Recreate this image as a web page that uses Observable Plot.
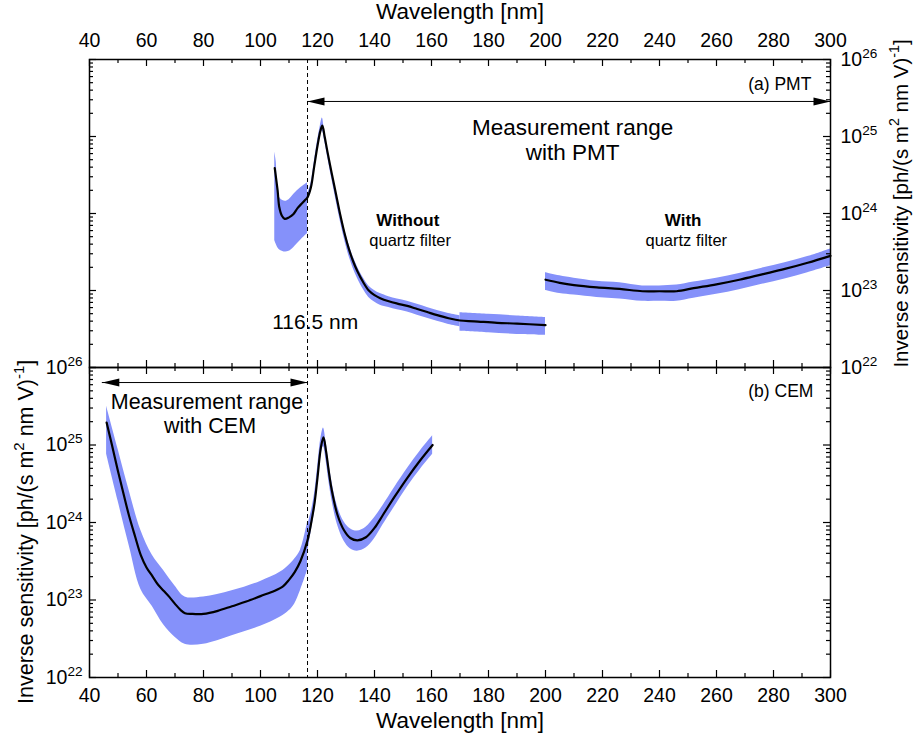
<!DOCTYPE html>
<html><head><meta charset="utf-8">
<script src="https://cdn.jsdelivr.net/npm/d3@7"></script>
<script src="https://cdn.jsdelivr.net/npm/@observablehq/plot@0.6"></script>
<style>
html,body{margin:0;padding:0;background:#fff;}
#wrap{position:relative;width:914px;height:740px;}
#top,#bot{position:absolute;left:0;}
#top{top:0;} #bot{top:366px;}
</style></head><body>
<div id="wrap"><div id="top"></div><div id="bot"></div></div>
<script>
// ---------- data (values are log10 of inverse sensitivity) ----------
const xTicksMajor = [40, 60, 80, 100, 120, 140, 160, 180, 200, 220, 240, 260, 280, 300];
const xTicksMinor = [50, 70, 90, 110, 130, 150, 170, 190, 210, 230, 250, 270, 290];
const yDecades = [22, 23, 24, 25, 26];
const yMinorMult = [2, 3, 4, 5, 6, 7, 8, 9];

// (a) PMT, without quartz filter
const pmtNoFilterWl  = [105, 106, 106.6, 107.5, 108.5, 110, 111.5, 113, 114.5, 115.5, 116.5, 117.7, 118.8, 120, 121, 121.7, 122.5, 123.5, 125, 126.5, 128, 129.5, 131, 132.5, 134, 136, 138, 140, 142, 145, 148, 151.5, 155, 158.5, 162, 166, 170, 175, 183, 190, 200];
const pmtNoFilterExp = [24.59, 24.30, 24.08, 23.97, 23.93, 23.95, 23.99, 24.07, 24.13, 24.17, 24.21, 24.34, 24.60, 24.88, 25.07, 25.14, 25.00, 24.80, 24.52, 24.25, 23.98, 23.74, 23.54, 23.38, 23.25, 23.11, 23.00, 22.94, 22.90, 22.86, 22.83, 22.80, 22.76, 22.72, 22.68, 22.64, 22.61, 22.60, 22.58, 22.57, 22.55];
// uncertainty bands
const pmtBandAWl = [105, 105.5, 106, 107, 108.7, 110, 111.7, 114, 116.5];
const pmtBandAHi = [24.80, 24.68, 24.36, 24.19, 24.16, 24.18, 24.25, 24.33, 24.40];
const pmtBandALo = [23.65, 23.60, 23.56, 23.52, 23.50, 23.51, 23.56, 23.65, 23.74];
const pmtBandBWl = [116.5, 117.7, 118.8, 120, 121, 121.7, 122.5, 123.5, 125, 126.5, 128, 129.5, 131, 132.5, 134, 136, 138, 140, 142, 145, 148, 151.5, 155, 158.5, 162, 166, 170];
const pmtBandBHi = [24.25, 24.39, 24.65, 24.94, 25.14, 25.24, 25.06, 24.85, 24.57, 24.30, 24.03, 23.80, 23.60, 23.44, 23.31, 23.17, 23.06, 23.00, 22.96, 22.92, 22.89, 22.86, 22.82, 22.78, 22.74, 22.70, 22.67];
const pmtBandBLo = [24.17, 24.29, 24.54, 24.82, 25.01, 25.07, 24.94, 24.74, 24.45, 24.17, 23.90, 23.66, 23.45, 23.29, 23.16, 23.02, 22.91, 22.85, 22.81, 22.78, 22.75, 22.72, 22.68, 22.64, 22.60, 22.56, 22.53];
const pmtBandCWl = [170, 180, 190, 200];
const pmtBandCHi = [22.71, 22.69, 22.67, 22.65];
const pmtBandCLo = [22.47, 22.45, 22.43, 22.42];

// (a) PMT, with quartz filter
const pmtFilterWl  = [200, 205, 210, 218, 226, 234, 240, 246, 252, 260, 268, 276, 284, 292, 300];
const pmtFilterExp = [23.14, 23.10, 23.07, 23.04, 23.02, 22.99, 22.99, 22.99, 23.03, 23.08, 23.14, 23.21, 23.28, 23.36, 23.45];
const pmtFilterHi  = [23.23, 23.19, 23.16, 23.12, 23.10, 23.06, 23.06, 23.07, 23.11, 23.16, 23.22, 23.29, 23.36, 23.44, 23.54];
const pmtFilterLo  = [23.00, 22.96, 22.94, 22.91, 22.89, 22.86, 22.86, 22.86, 22.90, 22.95, 23.01, 23.08, 23.15, 23.23, 23.32];

// (b) CEM
const cemWl  = [46, 48, 50, 52, 54, 56, 58, 60, 62, 64, 66, 68, 70, 72, 73.5, 76, 80, 85, 90, 95, 100, 105, 108, 110, 112, 114, 116.5, 118, 119, 120, 121.2, 122.1, 123, 124, 125, 127, 129.3, 131.5, 134, 137, 140, 143, 147, 151.6, 156, 160.4];
const cemExp = [25.29, 24.98, 24.66, 24.36, 24.07, 23.82, 23.58, 23.42, 23.31, 23.20, 23.12, 23.04, 22.95, 22.87, 22.83, 22.82, 22.82, 22.86, 22.92, 22.98, 23.05, 23.12, 23.18, 23.26, 23.36, 23.50, 23.77, 24.04, 24.26, 24.58, 24.97, 25.10, 24.92, 24.65, 24.42, 24.10, 23.90, 23.80, 23.77, 23.81, 23.93, 24.10, 24.33, 24.58, 24.80, 25.00];
const cemBandAWl = [46, 50, 54, 58, 62, 66, 70, 73.5, 80, 90, 100, 107, 110, 112, 114, 116.5];
const cemBandAHi = [25.50, 24.95, 24.40, 23.90, 23.58, 23.38, 23.18, 23.04, 23.04, 23.12, 23.24, 23.36, 23.45, 23.53, 23.64, 24.00];
const cemBandALo = [24.88, 24.28, 23.69, 23.14, 22.92, 22.68, 22.52, 22.43, 22.43, 22.54, 22.66, 22.78, 22.86, 22.95, 23.12, 23.38];
const cemBandBWl = [116.5, 118, 119, 120, 121.2, 122.1, 123, 124, 125, 127, 129.3, 131.5, 134, 137, 140, 143, 147, 151.6, 156, 160.4];
const cemBandBHi = [23.95, 24.17, 24.38, 24.70, 25.09, 25.22, 25.04, 24.77, 24.54, 24.21, 24.01, 23.92, 23.89, 23.94, 24.06, 24.22, 24.45, 24.70, 24.92, 25.12];
const cemBandBLo = [23.60, 23.93, 24.14, 24.46, 24.85, 24.98, 24.80, 24.53, 24.30, 23.97, 23.76, 23.66, 23.63, 23.67, 23.79, 23.97, 24.20, 24.46, 24.68, 24.88];

// annotations
const cutoffWl = 116.5;
const topNoteText = ["Measurement range", "with PMT"];
const topNoteWl   = [209.5, 209.5];
const topNoteExp  = [25.116, 24.782];
const cutoffLabel = "116.5 nm", cutoffLabelWl = 119.2, cutoffLabelExp = 22.59;
const boldNoteText = ["Without", "With"];
const boldNoteWl   = [151.7, 248.3];
const smallNoteText = ["quartz filter", "quartz filter"];
const smallNoteWl   = [152.5, 249.4];
const boldNoteExp = 23.905, smallNoteExp = 23.642;
const botNoteText = ["Measurement range", "with CEM"];
const botNoteWl   = [81.2, 82.3];
const botNoteExp  = [25.553, 25.239];
const panelLabels = ["(a) PMT", "(b) CEM"];
const panelLabelWl = [293.3, 294];
const panelLabelExp = [25.679, 25.692];
const pmtArrowWl = [116.5, 300], pmtArrowExp = 25.455;
const cemArrowWl = [44.5, 116.5], cemArrowExp = 25.806;
const xTitle = "Wavelength [nm]";
const yTitle = "Inverse sensitivity [ph/(s m^{2} nm V)^{-1}]";

// ---------- helpers ----------
const P = e => Math.pow(10, e);
const lineRows = (xs, es) => xs.map((x, i) => ({x, y: P(es[i])}));
const bandRows = (xs, hi, lo) => xs.map((x, i) => ({x, hi: P(hi[i]), lo: P(lo[i])}));
const yMajor = yDecades.map(P);
const yMinor = yDecades.slice(0, -1).flatMap(d => yMinorMult.map(m => m * P(d)));

const BAND = "#8591fa";
const FONT = "'Liberation Sans', Arial, Helvetica, sans-serif";
const W = 914, ML = 89, MR = 84, innerW = W - ML - MR;

const arrowRight = {draw(c) { c.moveTo(0, 0); c.lineTo(-17, -4); c.lineTo(-17, 4); c.closePath(); }};
const arrowLeft  = {draw(c) { c.moveTo(0, 0); c.lineTo(17, -4); c.lineTo(17, 4); c.closePath(); }};

function tickMarks(innerH) {
  const s = {stroke: "black", strokeWidth: 1.2};
  return [
    Plot.ruleX(xTicksMajor, {...s, insetBottom: innerH - 7}),
    Plot.ruleX(xTicksMinor, {...s, insetBottom: innerH - 4}),
    Plot.ruleX(xTicksMajor, {...s, insetTop: innerH - 7}),
    Plot.ruleX(xTicksMinor, {...s, insetTop: innerH - 4}),
    Plot.ruleY(yMajor, {...s, insetRight: innerW - 7}),
    Plot.ruleY(yMinor, {...s, insetRight: innerW - 4}),
    Plot.ruleY(yMajor, {...s, insetLeft: innerW - 7}),
    Plot.ruleY(yMinor, {...s, insetLeft: innerW - 4})
  ];
}
function arrowMarks(xs, e) {
  const rows = [{x1: xs[0], x2: xs[1], y: P(e)}];
  return [
    Plot.ruleY(rows, {x1: "x1", x2: "x2", y: "y", stroke: "black", strokeWidth: 1}),
    Plot.dot(rows, {x: "x1", y: "y", symbol: arrowLeft, fill: "black", stroke: "none"}),
    Plot.dot(rows, {x: "x2", y: "y", symbol: arrowRight, fill: "black", stroke: "none"})
  ];
}
const supFmt = d => "10^{" + Math.round(Math.log10(d)) + "}";
const area = (rows) => Plot.areaY(rows, {x: "x", y1: "lo", y2: "hi", fill: BAND, curve: "catmull-rom"});
const line = (rows) => Plot.line(rows, {x: "x", y: "y", stroke: "black", strokeWidth: 2.2, curve: "catmull-rom"});
const dashed = Plot.ruleX([cutoffWl], {stroke: "black", strokeWidth: 1, strokeDasharray: "4,3"});

// ---------- (a) PMT ----------
const topH = 368, topMT = 59, topMB = 1, topInner = topH - topMT - topMB;
const topPlot = Plot.plot({
  width: W, height: topH, marginTop: topMT, marginBottom: topMB, marginLeft: ML, marginRight: MR,
  x: {type: "linear", domain: [40, 300]},
  y: {type: "log", domain: [1e22, 1e26]},
  style: {fontFamily: FONT, fontSize: "19.5px", background: "transparent", color: "black", overflow: "visible"},
  marks: [
    area(bandRows(pmtBandAWl, pmtBandAHi, pmtBandALo)),
    area(bandRows(pmtBandBWl, pmtBandBHi, pmtBandBLo)),
    area(bandRows(pmtBandCWl, pmtBandCHi, pmtBandCLo)),
    area(bandRows(pmtFilterWl, pmtFilterHi, pmtFilterLo)),
    line(lineRows(pmtNoFilterWl, pmtNoFilterExp)),
    line(lineRows(pmtFilterWl, pmtFilterExp)),
    dashed,
    ...arrowMarks(pmtArrowWl, pmtArrowExp),
    Plot.text(topNoteText, {x: (d, i) => topNoteWl[i], y: (d, i) => P(topNoteExp[i]), text: d => d, fontSize: 22.5, lineAnchor: "middle"}),
    Plot.text([cutoffLabel], {x: () => cutoffLabelWl, y: () => P(cutoffLabelExp), text: d => d, fontSize: 21, lineAnchor: "middle"}),
    Plot.text(boldNoteText, {x: (d, i) => boldNoteWl[i], y: () => P(boldNoteExp), text: d => d, fontSize: 17, fontWeight: "bold", lineAnchor: "middle"}),
    Plot.text(smallNoteText, {x: (d, i) => smallNoteWl[i], y: () => P(smallNoteExp), text: d => d, fontSize: 16.5, lineAnchor: "middle"}),
    Plot.text([panelLabels[0]], {x: () => panelLabelWl[0], y: () => P(panelLabelExp[0]), text: d => d, fontSize: 17.5, textAnchor: "end", lineAnchor: "middle"}),
    Plot.frame({stroke: "black", strokeWidth: 1.5}),
    ...tickMarks(topInner),
    Plot.axisX(xTicksMajor, {anchor: "top", tickSize: 0, tickPadding: 13, label: null, fontSize: 19.5}),
    Plot.axisY(yMajor, {anchor: "right", tickSize: 0, tickPadding: 10, label: null, tickFormat: supFmt, fontSize: 19.5}),
    Plot.text([xTitle], {frameAnchor: "top", text: d => d, dy: -41, lineAnchor: "bottom", fontSize: 22.5}),
    Plot.text([yTitle], {frameAnchor: "right", y: () => P(24.13), text: d => d, dx: 77, rotate: -90, lineAnchor: "bottom", textAnchor: "middle", fontSize: 20.5})
  ]
});

// ---------- (b) CEM ----------
const botH = 374, botMT = 1, botMB = 63, botInner = botH - botMT - botMB;
const botPlot = Plot.plot({
  width: W, height: botH, marginTop: botMT, marginBottom: botMB, marginLeft: ML, marginRight: MR,
  x: {type: "linear", domain: [40, 300]},
  y: {type: "log", domain: [1e22, 1e26]},
  style: {fontFamily: FONT, fontSize: "19.5px", background: "transparent", color: "black", overflow: "visible"},
  marks: [
    area(bandRows(cemBandAWl, cemBandAHi, cemBandALo)),
    area(bandRows(cemBandBWl, cemBandBHi, cemBandBLo)),
    line(lineRows(cemWl, cemExp)),
    dashed,
    ...arrowMarks(cemArrowWl, cemArrowExp),
    Plot.text(botNoteText, {x: (d, i) => botNoteWl[i], y: (d, i) => P(botNoteExp[i]), text: d => d, fontSize: 21.5, lineAnchor: "middle"}),
    Plot.text([panelLabels[1]], {x: () => panelLabelWl[1], y: () => P(panelLabelExp[1]), text: d => d, fontSize: 17.5, textAnchor: "end", lineAnchor: "middle"}),
    Plot.frame({stroke: "black", strokeWidth: 1.5}),
    ...tickMarks(botInner),
    Plot.axisX(xTicksMajor, {anchor: "bottom", tickSize: 0, tickPadding: 11, label: null, fontSize: 19.5}),
    Plot.axisY(yMajor, {anchor: "left", tickSize: 0, tickPadding: 7, label: null, tickFormat: supFmt, fontSize: 19.5}),
    Plot.text([xTitle], {frameAnchor: "bottom", text: d => d, dy: 50, lineAnchor: "bottom", fontSize: 22.5}),
    Plot.text([yTitle], {frameAnchor: "left", y: () => P(23.88), text: d => d, dx: -57, rotate: -90, lineAnchor: "bottom", textAnchor: "middle", fontSize: 21.5})
  ]
});

document.getElementById("top").appendChild(topPlot);
document.getElementById("bot").appendChild(botPlot);

// render "^{...}" as real superscript tspans
function supify(root) {
  const NS = "http://www.w3.org/2000/svg";
  root.querySelectorAll("text").forEach(t => {
    if (t.querySelector("tspan")) return;
    const s = t.textContent;
    if (!s.includes("^{")) return;
    const fs = parseFloat(getComputedStyle(t).fontSize) || 19;
    const parts = s.split(/\^\{([^}]*)\}/);
    t.textContent = "";
    const shift = fs * 0.42;
    parts.forEach((p, i) => {
      if (i % 2 === 0 && p === "") return;
      const sp = document.createElementNS(NS, "tspan");
      sp.textContent = p;
      if (i % 2 === 1) { sp.setAttribute("font-size", (fs * 0.7).toFixed(1)); sp.setAttribute("dy", (-shift).toFixed(1)); }
      else if (i > 0) { sp.setAttribute("dy", shift.toFixed(1)); }
      t.appendChild(sp);
    });
  });
}
supify(topPlot);
supify(botPlot);
</script>
</body></html>
